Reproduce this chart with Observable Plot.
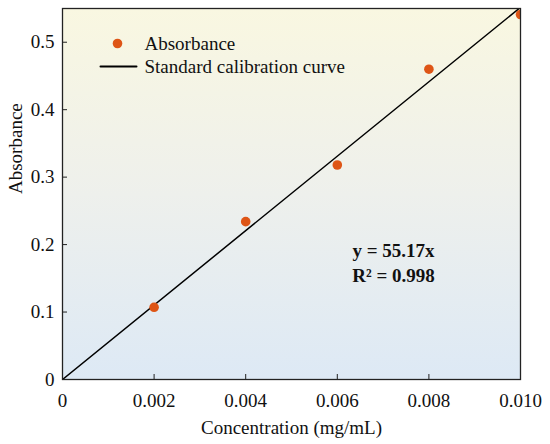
<!DOCTYPE html>
<html>
<head>
<meta charset="utf-8">
<script src="https://cdn.jsdelivr.net/npm/d3@7"></script>
<script src="https://cdn.jsdelivr.net/npm/@observablehq/plot@0.6"></script>
<style>
  html, body { margin: 0; padding: 0; background: #fff; }
  svg, svg text { font-family: "Liberation Serif", "Times New Roman", serif !important; }
</style>
</head>
<body>
<div id="chart"></div>
<script>
// Data
const concentration = [0.002, 0.004, 0.006, 0.008, 0.010];
const absorbance = [0.107, 0.234, 0.318, 0.460, 0.541];
const fitX = [0, 0.010];
const fitY = [0, 0.5517];
const xTicks = [0, 0.002, 0.004, 0.006, 0.008, 0.010];
const yTicks = [0, 0.1, 0.2, 0.3, 0.4, 0.5];
const legendLabels = ["Absorbance", "Standard calibration curve"];
const equationLines = ["y = 55.17x", "R\u00B2 = 0.998"];

const points = concentration.map((c, i) => ({c, a: absorbance[i]}));
const fit = fitX.map((x, i) => ({x, y: fitY[i]}));

const defs = () => {
  const g = document.createElementNS("http://www.w3.org/2000/svg", "defs");
  g.innerHTML = `<linearGradient id="bg" x1="0" y1="0" x2="0" y2="1">
    <stop offset="0" stop-color="#f9f7e1"/>
    <stop offset="0.5" stop-color="#eef0ec"/>
    <stop offset="1" stop-color="#dde9f5"/>
  </linearGradient>`;
  return g;
};

const lineShape = {draw(context, l) { context.moveTo(0, 0); context.lineTo(0, -l); }};
const FS = 19;

const chart = Plot.plot({
  width: 550,
  height: 444,
  marginLeft: 62,
  marginRight: 30,
  marginTop: 8,
  marginBottom: 65,
  style: {fontSize: FS + "px", background: "#fff", color: "#111"},
  x: {domain: [0, 0.010]},
  y: {domain: [0, 0.55]},
  marks: [
    defs,
    Plot.frame({fill: "url(#bg)", stroke: null}),
    Plot.axisX({ticks: xTicks, tickSize: -5, tickPadding: 19, label: null,
      tickFormat: d => d === 0 ? "0" : d.toFixed(3), fontSize: FS, stroke: "#222"}),
    Plot.axisY({ticks: yTicks, tickSize: -5, tickPadding: 13, label: null,
      tickFormat: d => d === 0 ? "0" : d.toFixed(1), fontSize: FS, stroke: "#222"}),
    Plot.line(fit, {x: "x", y: "y", stroke: "#000", strokeWidth: 1.5, clip: true}),
    Plot.dot(points, {x: "c", y: "a", r: 4.8, fill: "#de5516", stroke: null, clip: true}),
    // legend
    Plot.dot([legendLabels[0]], {frameAnchor: "top-left", dx: 55, dy: 35, r: 4.8, fill: "#de5516"}),
    Plot.vector([legendLabels[1]], {frameAnchor: "top-left", dx: 38, dy: 58, length: 36, rotate: 90,
      anchor: "start", shape: lineShape, stroke: "#000", strokeWidth: 2}),
    Plot.text([legendLabels[0]], {text: d => d, frameAnchor: "top-left", dx: 82, dy: 35,
      textAnchor: "start", lineAnchor: "middle", fontSize: FS, fill: "#111"}),
    Plot.text([legendLabels[1]], {text: d => d, frameAnchor: "top-left", dx: 82, dy: 58,
      textAnchor: "start", lineAnchor: "middle", fontSize: FS, fill: "#111"}),
    // equation
    Plot.text([equationLines[0]], {text: d => d, frameAnchor: "top-left", dx: 331, dy: 242,
      textAnchor: "middle", lineAnchor: "middle", fontSize: FS, fontWeight: "bold", fill: "#111"}),
    Plot.text([equationLines[1]], {text: d => d, frameAnchor: "top-left", dx: 331, dy: 267,
      textAnchor: "middle", lineAnchor: "middle", fontSize: FS, fontWeight: "bold", fill: "#111"}),
    // axis titles
    Plot.text(["Concentration (mg/mL)"], {text: d => d, frameAnchor: "bottom", dy: 48,
      lineAnchor: "middle", fontSize: FS, fill: "#111"}),
    Plot.text(["Absorbance"], {text: d => d, frameAnchor: "left", dx: -47, rotate: -90,
      lineAnchor: "middle", fontSize: FS, fill: "#111"}),
    Plot.frame({stroke: "#222", strokeWidth: 1.3})
  ]
});
document.getElementById("chart").appendChild(chart);
</script>
</body>
</html>
